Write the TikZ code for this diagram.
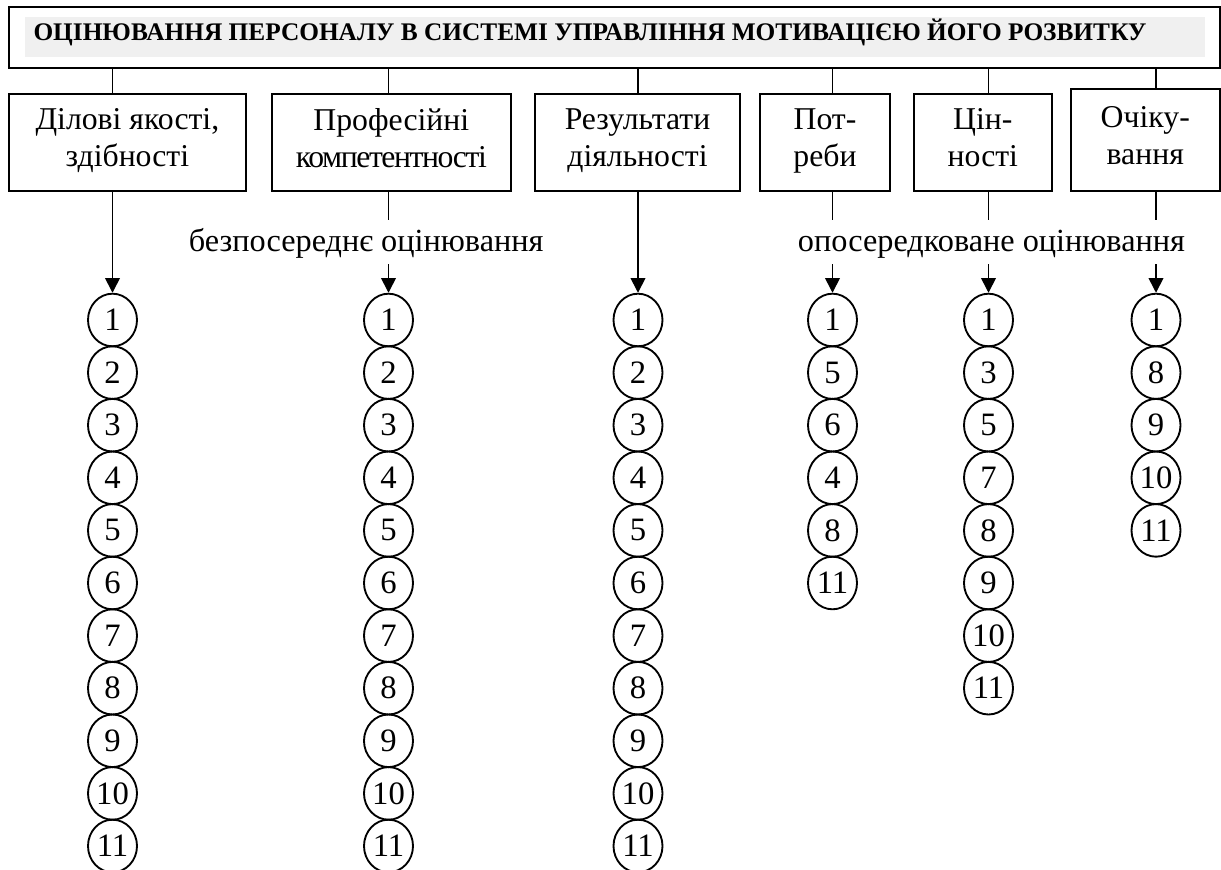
\documentclass[tikz,border=0pt]{standalone}
\usepackage{fontspec}
\setmainfont{Liberation Serif}
\usetikzlibrary{arrows.meta,shapes.geometric}
\newcommand\bxst{\rule[-0.3em]{0pt}{0.88em}}
\begin{document}
\begin{tikzpicture}[x=0.75pt,y=-0.75pt,
  box/.style={draw,line width=1.5pt,align=center,font=\fontsize{23.8}{27.75}\selectfont,inner sep=0pt,minimum height=72.5pt},
  num/.style={ellipse,draw,line width=1.4pt,minimum width=36.75pt,minimum height=39.45pt,inner sep=0pt,font=\fontsize{24.5}{28}\selectfont},
  conn/.style={line width=1.2pt},
  arr/.style={line width=1.2pt,-{Triangle[length=11pt,width=11pt]}},
  lbl/.style={font=\fontsize{24.2}{28}\selectfont,inner sep=0pt,anchor=base}]
\useasboundingbox (0,0) rectangle (1221,870);
% title
\node[draw,line width=1.5pt,minimum width=907.9pt,minimum height=45.75pt,inner sep=0pt] (top) at (614.25,37.8) {};
\node[fill=black!6,minimum width=885pt,minimum height=30pt,inner sep=0pt] (band) at (615,36.7) {};
\node[font=\bfseries\fontsize{19}{22}\selectfont,inner sep=0pt,anchor=base] (title) at (590,40.5) {ОЦІНЮВАННЯ ПЕРСОНАЛУ В СИСТЕМІ УПРАВЛІННЯ МОТИВАЦІЄЮ ЙОГО РОЗВИТКУ};
% column axes
\coordinate (c1) at (112.5,0);
\coordinate (c2) at (388.5,0);
\coordinate (c3) at (638,0);
\coordinate (c4) at (832.5,0);
\coordinate (c5) at (988.5,0);
\coordinate (c6) at (1156,0);
% boxes
\node[box,minimum width=177.5pt] (box1) at (127.4,142.35) {\bxst Ділові якості,\\\bxst здібності};
\node[box,minimum width=179.5pt] (box2) at (391.35,142.35) {\bxst Професійні\\\bxst{\addfontfeatures{LetterSpace=-4.5}компетентності}};
\node[box,minimum width=153.75pt] (box3) at (637.5,142.35) {\bxst Результати\\\bxst діяльності};
\node[box,minimum width=97.5pt] (box4) at (825,142.35) {\bxst Пот-\\\bxst реби};
\node[box,minimum width=103.3pt] (box5) at (982.85,142.35) {\bxst Цін-\\\bxst ності};
\node[box,minimum width=111.4pt,minimum height=76pt] (box6) at (1145.25,140) {\bxst Очіку-\\\bxst вання};
% labels
\node[lbl] (lblA) at (366.2,252) {безпосереднє оцінювання};
\node[lbl] (lblB) at (991.5,252) {опосередковане оцінювання};
% circles
\foreach \v [count=\i] in {1,2,3,4,5,6,7,8,9,10,11} {
  \node[num] (n1-\i) at (112.5,{320+52.6*(\i-1)}) {\v};
  \node[num] (n2-\i) at (388.5,{320+52.6*(\i-1)}) {\v};
  \node[num] (n3-\i) at (638,{320+52.6*(\i-1)}) {\v};
}
\foreach \v [count=\i] in {1,5,6,4,8,11}
  \node[num] (n4-\i) at (832.5,{320+52.6*(\i-1)}) {\v};
\foreach \v [count=\i] in {1,3,5,7,8,9,10,11}
  \node[num] (n5-\i) at (988.5,{320+52.6*(\i-1)}) {\v};
\foreach \v [count=\i] in {1,8,9,10,11}
  \node[num] (n6-\i) at (1156,{320+52.6*(\i-1)}) {\v};
% connectors from title
\foreach \k in {1,...,6}
  \draw[conn] (top.south -| c\k) -- (box\k.north -| c\k);
% direct arrows
\draw[arr] (box1.south -| c1) -- (n1-1.north);
\draw[arr] (box3.south -| c3) -- (n3-1.north);
% interrupted arrows
\coordinate (a2) at (388.5,220);
\coordinate (b2) at (388.5,264);
\coordinate (a4) at (832.5,220);
\coordinate (b4) at (832.5,264);
\coordinate (a5) at (988.5,220);
\coordinate (b5) at (988.5,264);
\coordinate (a6) at (1156,220);
\coordinate (b6) at (1156,264);
\foreach \k in {2,4,5,6} {
  \draw[conn] (box\k.south -| c\k) -- (a\k);
  \draw[arr] (b\k) -- (n\k-1.north);
}
\end{tikzpicture}
\end{document}
